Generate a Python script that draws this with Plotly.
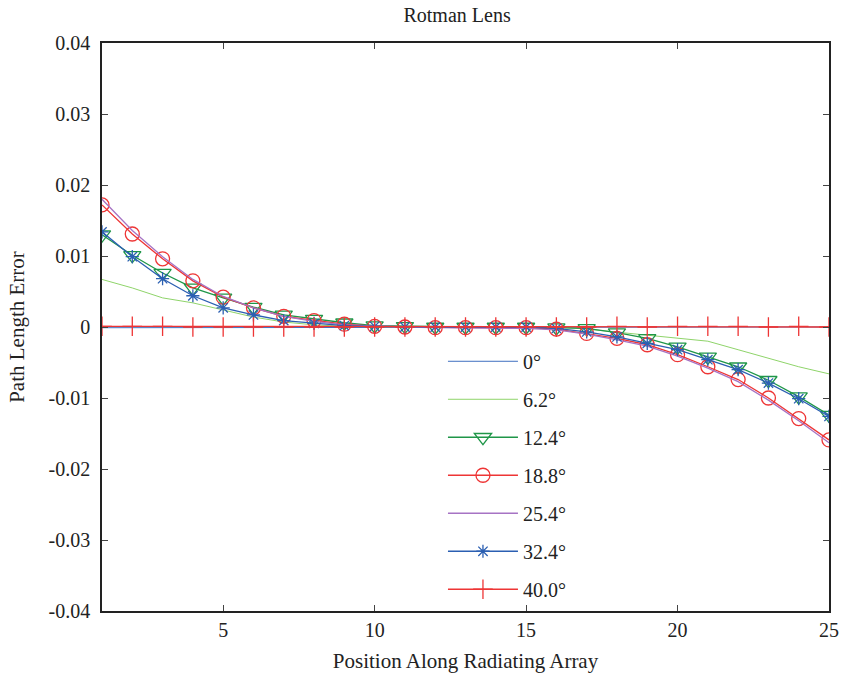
import plotly.graph_objects as go

positions = list(range(1, 26))

err_0 = [-0.0001, -0.0001, -0.0001, -0.0001, -0.0001, 0.0, 0.0, 0.0, 0.0, 0.0, 0.0, 0.0, 0.0,
         0.0, 0.0, 0.0, 0.0, 0.0, 0.0, 0.0, 0.0, 0.0, 0.0, 0.0, 0.0]
err_6_2 = [0.0067, 0.0055, 0.0041, 0.0034, 0.0024, 0.0014, 0.0007, 0.0003, 0.0001, 0.0, 0.0, 0.0, 0.0,
           0.0, 0.0, 0.0, -0.0003, -0.0007, -0.0011, -0.0016, -0.0020, -0.0032, -0.0044, -0.0056, -0.0066]
err_12_4 = [0.0130, 0.0101, 0.0076, 0.0055, 0.0041, 0.0028, 0.0017, 0.0011, 0.0006, 0.0002, 0.0001, 0.0, 0.0,
            0.0, 0.0, -0.0001, -0.0002, -0.0008, -0.0016, -0.0028, -0.0042, -0.0056, -0.0075, -0.0098, -0.0124]
err_18_8 = [0.0172, 0.0131, 0.0096, 0.0065, 0.0042, 0.0027, 0.0015, 0.0009, 0.0004, 0.0001, 0.0, -0.0001, -0.0001,
            -0.0001, -0.0001, -0.0003, -0.0009, -0.0016, -0.0025, -0.0039, -0.0056, -0.0074, -0.0100, -0.0129, -0.0159]
err_25_4 = [0.0180, 0.0136, 0.0099, 0.0067, 0.0043, 0.0027, 0.0015, 0.0008, 0.0003, 0.0001, 0.0, -0.0001, -0.0001,
            -0.0002, -0.0002, -0.0004, -0.0010, -0.0018, -0.0027, -0.0041, -0.0058, -0.0077, -0.0103, -0.0132, -0.0163]
err_32_4 = [0.0134, 0.0099, 0.0068, 0.0044, 0.0027, 0.0017, 0.0009, 0.0005, 0.0002, 0.0001, 0.0, 0.0, 0.0,
            0.0, 0.0, -0.0002, -0.0007, -0.0014, -0.0023, -0.0032, -0.0046, -0.0060, -0.0079, -0.0101, -0.0126]
err_40_0 = [0.0001, 0.0001, 0.0001, 0.0, 0.0, 0.0, 0.0, 0.0, 0.0, 0.0, 0.0, 0.0, 0.0,
            0.0, 0.0, 0.0, 0.0, 0.0001, 0.0, 0.0001, 0.0001, 0.0001, 0.0, 0.0001, 0.0]

labels = ["0°", "6.2°", "12.4°", "18.8°", "25.4°", "32.4°", "40.0°"]
y_ticks = [0.04, 0.03, 0.02, 0.01, 0, -0.01, -0.02, -0.03, -0.04]
y_tick_text = ["0.04", "0.03", "0.02", "0.01", "0", "-0.01", "-0.02", "-0.03", "-0.04"]
x_ticks = [5, 10, 15, 20, 25]

series = [
    (labels[0], err_0, "#3f6fc0", 1, None, 0),
    (labels[1], err_6_2, "#8fd46a", 1, None, 0),
    (labels[2], err_12_4, "#1f9648", 1.3, "triangle-down-open", 15),
    (labels[3], err_18_8, "#ee3535", 1.3, "circle-open", 14),
    (labels[4], err_25_4, "#a673c4", 1.3, None, 0),
    (labels[5], err_32_4, "#2b5fb2", 1.3, "asterisk-open", 11),
    (labels[6], err_40_0, "#ee3535", 1.3, "cross-thin-open", 14),
]

fig = go.Figure()
for i, (name, vals, color, lw, sym, msize) in enumerate(series):
    mode = "lines+markers" if sym else "lines"
    kw = {}
    if sym:
        kw["marker"] = dict(symbol=sym, size=msize, color=color, line=dict(color=color, width=1.3))
    fig.add_trace(go.Scatter(
        x=positions, y=vals, name=name, mode=mode,
        line=dict(color=color, width=lw), legendgroup=str(i), **kw
    ))

font_family = "Liberation Serif, Times New Roman, serif"
fig.update_layout(
    width=841, height=677,
    margin=dict(l=102, r=12, t=43, b=66),
    paper_bgcolor="white", plot_bgcolor="white",
    font=dict(family=font_family, size=20, color="#222"),
    title=dict(text="Rotman Lens", x=0.5435, xanchor="center", y=0.988, yanchor="top",
               font=dict(size=20, family=font_family)),
    legend=dict(x=0.469, y=0.474, xanchor="left", yanchor="top", bgcolor="rgba(0,0,0,0)",
                font=dict(size=20, family=font_family), tracegroupgap=9, traceorder="grouped",
                itemwidth=70),
    showlegend=True,
)
fig.update_xaxes(
    range=[1, 25], tickvals=x_ticks, ticks="inside", ticklen=6, showgrid=False, zeroline=False,
    showline=True, linecolor="#222", linewidth=1.5, mirror="ticks", automargin=False,
    title=dict(text="Position Along Radiating Array", font=dict(size=21), standoff=14),
    tickfont=dict(size=20),
)
fig.update_yaxes(
    range=[-0.04, 0.04], tickvals=y_ticks, ticktext=y_tick_text, ticks="inside", ticklen=6,
    showgrid=False, zeroline=False, showline=True, linecolor="#222", linewidth=1.5, mirror="ticks",
    automargin=False, ticklabelstandoff=6,
    title=dict(text="Path Length Error", font=dict(size=21), standoff=18),
    tickfont=dict(size=20),
)

fig.write_html("out.html", config={"displayModeBar": False},
               post_script="document.body.style.margin='0';document.body.style.overflow='hidden';")
